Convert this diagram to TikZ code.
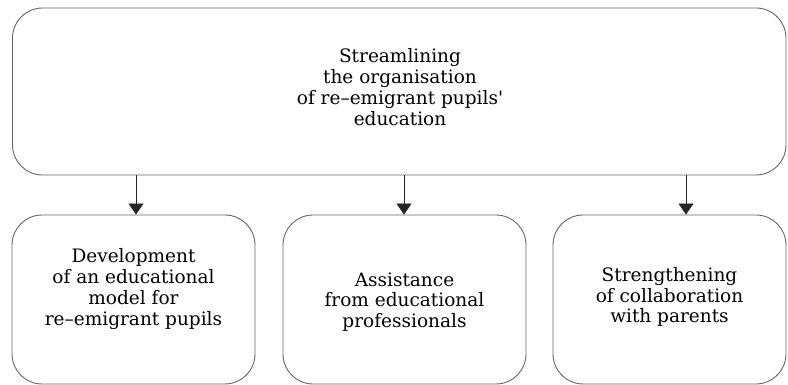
\documentclass[tikz,border=0pt]{standalone}
\usepackage{fontspec}
\setmainfont{DejaVu Serif}
\usetikzlibrary{arrows.meta}
\begin{document}
\begin{tikzpicture}[x=1pt,y=1pt,
  box/.style={draw=black!60, line width=0.9pt, rounded corners=30pt, inner sep=0pt},
  label/.style={align=center, inner sep=0pt, font=\fontsize{18.5}{20.8}\selectfont},
  link/.style={draw=black!85, line width=0.8pt, -{Triangle[width=15pt,length=11pt]}}]
\useasboundingbox (0,0) rectangle (788,385);
% outer goal
\node[box, minimum width=773.5pt, minimum height=167pt] (goal) at (399.25,293.5) {};
\node[label] (goalt) at (400,298) {Streamlining\\the organisation\\of re--emigrant pupils\textquotesingle\\education};
% three measures
\node[box, minimum width=243pt, minimum height=169pt] (m1) at (133.5,85.5) {};
\node[box, minimum width=243pt, minimum height=169pt] (m2) at (404.5,85.5) {};
\node[box, minimum width=233pt, minimum height=169pt] (m3) at (669.5,85.5) {};
\node[label] (m1t) at (133.5,96) {Development\\of an educational\\model for\\re--emigrant pupils};
\node[label] (m2t) at (404.5,83) {Assistance\\from educational\\professionals};
\node[label] (m3t) at (669.5,88) {Strengthening\\of collaboration\\with parents};
% connectors
\draw[link] ([xshift=2.5pt]m1.north |- goal.south) -- ([xshift=2.5pt]m1.north);
\draw[link] ([xshift=-0.5pt]m2.north |- goal.south) -- ([xshift=-0.5pt]m2.north);
\draw[link] ([xshift=16.5pt]m3.north |- goal.south) -- ([xshift=16.5pt]m3.north);
\end{tikzpicture}
\end{document}
